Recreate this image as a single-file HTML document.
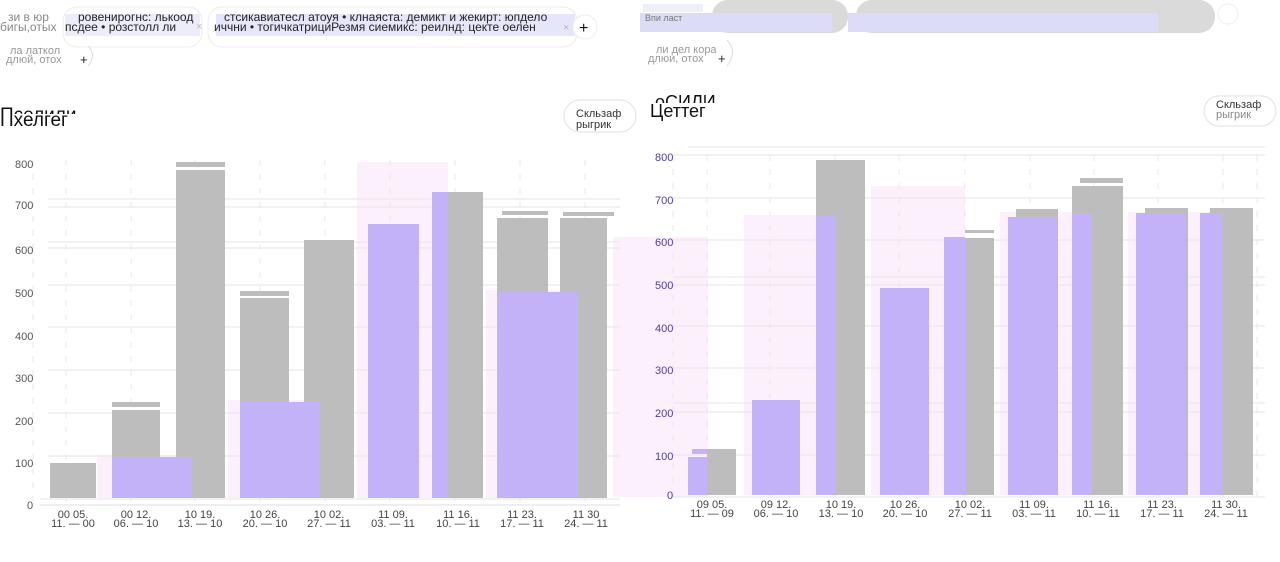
<!DOCTYPE html>
<html><head><meta charset="utf-8"><style>
html,body{margin:0;padding:0;background:#fff;width:1280px;height:562px;overflow:hidden}
svg{display:block}
text{font-family:"Liberation Sans","DejaVu Sans",sans-serif}
</style></head><body>
<svg width="1280" height="562" viewBox="0 0 1280 562" xmlns="http://www.w3.org/2000/svg">
<defs>
<clipPath id="ct1"><rect x="0" y="100" width="120" height="14"/></clipPath>
<clipPath id="ct2"><rect x="0" y="114" width="120" height="14"/></clipPath>
<clipPath id="ct3"><rect x="640" y="88" width="120" height="15"/></clipPath>
<clipPath id="ct4"><rect x="640" y="103" width="120" height="20"/></clipPath>
</defs>

<!-- TOP LEFT toolbar -->
<rect x="63" y="7" width="139" height="40" rx="14" fill="#fff" stroke="#ececec"/>
<rect x="208" y="7" width="369" height="40" rx="14" fill="#fff" stroke="#ececec"/>
<rect x="65" y="14" width="135" height="22" fill="#ececfb"/>
<rect x="216" y="14" width="359" height="22" fill="#e6e6fa"/>
<text x="8" y="21" font-size="12" fill="#888">зи в юр</text>
<text x="0" y="31" font-size="12" fill="#888">бигы,отых</text>
<text x="78" y="21" font-size="12" fill="#222">ровенирогнс: лькоод</text>
<text x="65" y="31" font-size="12" fill="#222">псдее • розстолл ли</text>
<text x="196" y="30" font-size="11" fill="#bbb">×</text>
<text x="224" y="21" font-size="12" fill="#222">стсикавиатесл атоуя • клнаяста: демикт и жекирт: юпдело</text>
<text x="214" y="31" font-size="12" fill="#222">иччни • тогичкатрициРезмя сиемикс: реилнд: цекте оелен</text>
<text x="563" y="31" font-size="11" fill="#bbb">×</text>
<circle cx="585" cy="27" r="12" fill="#fff" stroke="#eee"/>
<text x="579" y="33" font-size="16" fill="#111">+</text>
<text x="10" y="54" font-size="11" fill="#999">ла латкол</text>
<text x="6" y="63" font-size="11" fill="#999">длюй, отох</text>
<text x="80" y="64" font-size="13" fill="#222">+</text>
<path d="M88 46 Q97 55 88 66" stroke="#ddd" fill="none"/>

<!-- TOP RIGHT toolbar -->
<rect x="643" y="4" width="60" height="8" fill="#efeffb"/>
<rect x="712" y="0" width="136" height="33" rx="16" fill="#dadada"/>
<rect x="856" y="0" width="359" height="33" rx="16" fill="#dadada"/>
<rect x="640" y="13" width="192" height="19" fill="#dcdcf7"/>
<rect x="848" y="13" width="310" height="19" fill="#dcdcf7"/>
<text x="645" y="21" font-size="9" fill="#777">Впи ласт</text>
<circle cx="1228" cy="14" r="10" fill="#fff" stroke="#eee"/>
<text x="656" y="53" font-size="11" fill="#999">ли дел кора</text>
<text x="648" y="62" font-size="11" fill="#999">длюи, отох</text>
<text x="718" y="63" font-size="13" fill="#222">+</text>
<path d="M727 40 Q738 52 727 66" stroke="#ddd" fill="none"/>

<!-- Titles -->
<text x="0" y="121" font-size="19" fill="#111" clip-path="url(#ct1)">Пселили</text>
<text x="0" y="126" font-size="19" fill="#111" clip-path="url(#ct2)">Пхелгег</text>
<text x="655" y="108" font-size="18" fill="#111" clip-path="url(#ct3)">оСИЛИ</text>
<text x="650" y="117" font-size="18" fill="#111" clip-path="url(#ct4)">Цеттег</text>
<rect x="564" y="100" width="72" height="32" rx="16" fill="#fff" stroke="#e2e2e2"/>
<text x="576" y="117" font-size="11" fill="#333">Скльзаф</text>
<text x="576" y="128" font-size="11" fill="#333">рыгрик</text>
<rect x="1204" y="96" width="72" height="30" rx="15" fill="#fff" stroke="#e2e2e2"/>
<text x="1216" y="108" font-size="11" fill="#333">Скльзаф</text>
<text x="1216" y="118" font-size="11" fill="#888">рыгрик</text>

<!-- pink backgrounds -->
<g fill="#fdf0fd">
<rect x="97" y="455" width="95" height="43"/>
<rect x="228" y="400" width="92" height="98"/>
<rect x="357" y="162" width="91" height="336"/>
<rect x="486" y="290" width="94" height="208"/>
<rect x="613" y="237" width="95" height="260"/>
<rect x="744" y="215" width="92" height="280"/>
<rect x="871" y="186" width="94" height="309"/>
<rect x="1000" y="212" width="92" height="283"/>
<rect x="1128" y="212" width="92" height="283"/>
</g>

<!-- left grid -->
<g stroke="#e6e6e6" stroke-width="1">
<line x1="48" y1="199" x2="620" y2="199"/><line x1="48" y1="207" x2="620" y2="207"/>
<line x1="48" y1="242" x2="620" y2="242"/><line x1="48" y1="248" x2="620" y2="248"/>
<line x1="48" y1="285" x2="620" y2="285"/>
<line x1="48" y1="327" x2="620" y2="327"/>
<line x1="48" y1="370" x2="620" y2="370"/>
<line x1="48" y1="413" x2="620" y2="413"/>
<line x1="48" y1="456" x2="620" y2="456"/>
<line x1="40" y1="499" x2="620" y2="499"/><line x1="40" y1="505" x2="620" y2="505" stroke="#ddd"/>
</g>
<g stroke="#e8e8e8" stroke-dasharray="6 8">
<line x1="33" y1="160" x2="33" y2="505"/><line x1="66" y1="160" x2="66" y2="505"/>
<line x1="131" y1="160" x2="131" y2="505"/><line x1="195" y1="160" x2="195" y2="505"/>
<line x1="260" y1="160" x2="260" y2="505"/><line x1="325" y1="160" x2="325" y2="505"/>
<line x1="390" y1="160" x2="390" y2="505"/><line x1="455" y1="160" x2="455" y2="505"/>
<line x1="520" y1="160" x2="520" y2="505"/><line x1="585" y1="160" x2="585" y2="505"/>
</g>
<g font-size="11" fill="#555">
<text x="15" y="168">800</text>
<text x="15" y="209">700</text>
<text x="15" y="254">600</text>
<text x="15" y="297">500</text>
<text x="15" y="340">400</text>
<text x="15" y="382">300</text>
<text x="15" y="425">200</text>
<text x="15" y="467">100</text>
<text x="27" y="509">0</text>
</g>

<!-- left gray bars -->
<g fill="#bdbdbd">
<rect x="50" y="463" width="46" height="35"/>
<rect x="112" y="410" width="48" height="88"/><rect x="112" y="402" width="48" height="5"/>
<rect x="176" y="170" width="49" height="328"/><rect x="176" y="162" width="49" height="5"/>
<rect x="240" y="298" width="49" height="200"/><rect x="240" y="291" width="49" height="5"/>
<rect x="304" y="240" width="50" height="258"/>
<rect x="448" y="192" width="35" height="306"/>
<rect x="497" y="218" width="51" height="280"/><rect x="502" y="211" width="46" height="4"/>
<rect x="560" y="218" width="47" height="280"/><rect x="563" y="212" width="51" height="4"/>
</g>
<g fill="#c3b2f7">
<rect x="112" y="457" width="80" height="41"/>
<rect x="240" y="402" width="80" height="96"/>
<rect x="368" y="224" width="51" height="274"/>
<rect x="432" y="192" width="16" height="306"/>
<rect x="497" y="292" width="81" height="206"/>
</g>
<rect x="578" y="292" width="29" height="206" fill="#bdbdbd"/>

<g font-size="11" fill="#444" text-anchor="middle">
<text x="73" y="518">00 05.</text><text x="73" y="527">11. — 00</text>
<text x="136" y="518">00 12.</text><text x="136" y="527">06. — 10</text>
<text x="200" y="518">10 19.</text><text x="200" y="527">13. — 10</text>
<text x="265" y="518">10 26.</text><text x="265" y="527">20. — 10</text>
<text x="329" y="518">10 02.</text><text x="329" y="527">27. — 11</text>
<text x="393" y="518">11 09.</text><text x="393" y="527">03. — 11</text>
<text x="458" y="518">11 16.</text><text x="458" y="527">10. — 11</text>
<text x="522" y="518">11 23.</text><text x="522" y="527">17. — 11</text>
<text x="586" y="518">11 30</text><text x="586" y="527">24. — 11</text>
</g>

<!-- RIGHT CHART grid -->
<g stroke="#e6e6e6" stroke-width="1">
<line x1="688" y1="147" x2="1265" y2="147"/>
<line x1="673" y1="155" x2="1265" y2="155"/>
<line x1="673" y1="198" x2="1265" y2="198"/>
<line x1="673" y1="240" x2="1265" y2="240"/>
<line x1="673" y1="277" x2="1265" y2="277"/><line x1="673" y1="285" x2="1265" y2="285"/>
<line x1="673" y1="326" x2="1265" y2="326"/>
<line x1="673" y1="368" x2="1265" y2="368"/>
<line x1="673" y1="403" x2="1265" y2="403"/><line x1="673" y1="412" x2="1265" y2="412"/>
<line x1="673" y1="455" x2="1265" y2="455"/>
<line x1="673" y1="497" x2="1265" y2="497"/>
</g>
<g stroke="#e8e8e8" stroke-dasharray="6 8">
<line x1="673" y1="155" x2="673" y2="497"/><line x1="707" y1="155" x2="707" y2="497"/>
<line x1="770" y1="155" x2="770" y2="497"/><line x1="835" y1="155" x2="835" y2="497"/>
<line x1="899" y1="155" x2="899" y2="497"/><line x1="965" y1="155" x2="965" y2="497"/>
<line x1="1030" y1="155" x2="1030" y2="497"/><line x1="1094" y1="155" x2="1094" y2="497"/>
<line x1="1158" y1="155" x2="1158" y2="497"/><line x1="1223" y1="155" x2="1223" y2="497"/>
<line x1="1257" y1="155" x2="1257" y2="497"/>
</g>
<g font-size="11" fill="#4a3fa0">
<text x="655" y="161">800</text>
<text x="655" y="204">700</text>
<text x="655" y="246">600</text>
<text x="655" y="289">500</text>
<text x="655" y="332">400</text>
<text x="655" y="374">300</text>
<text x="655" y="417">200</text>
<text x="655" y="460">100</text>
<text x="667" y="499">0</text>
</g>

<g fill="#bdbdbd">
<rect x="707" y="449" width="29" height="46"/>
<rect x="816" y="160" width="49" height="335"/>
<rect x="965" y="238" width="29" height="257"/><rect x="965" y="230" width="29" height="3"/>
<rect x="1016" y="209" width="42" height="286"/>
<rect x="1072" y="186" width="51" height="309"/><rect x="1080" y="178" width="43" height="5"/>
<rect x="1145" y="208" width="43" height="287"/>
<rect x="1210" y="208" width="43" height="287"/>
</g>
<g fill="#c3b2f7">
<rect x="688" y="457" width="19" height="38"/>
<rect x="692" y="449" width="15" height="5"/>
<rect x="752" y="400" width="48" height="95"/>
<rect x="816" y="216" width="20" height="279"/>
<rect x="880" y="288" width="49" height="207"/>
<rect x="944" y="237" width="21" height="258"/>
<rect x="1008" y="217" width="49" height="278"/>
<rect x="1072" y="213" width="20" height="282"/>
<rect x="1136" y="213" width="49" height="282"/>
<rect x="1200" y="213" width="22" height="282"/>
</g>

<g font-size="11" fill="#444" text-anchor="middle">
<text x="712" y="508">09 05.</text><text x="712" y="517">11. — 09</text>
<text x="776" y="508">09 12.</text><text x="776" y="517">06. — 10</text>
<text x="841" y="508">10 19.</text><text x="841" y="517">13. — 10</text>
<text x="905" y="508">10 26.</text><text x="905" y="517">20. — 10</text>
<text x="970" y="508">10 02.</text><text x="970" y="517">27. — 11</text>
<text x="1034" y="508">11 09.</text><text x="1034" y="517">03. — 11</text>
<text x="1098" y="508">11 16.</text><text x="1098" y="517">10. — 11</text>
<text x="1162" y="508">11 23.</text><text x="1162" y="517">17. — 11</text>
<text x="1226" y="508">11 30.</text><text x="1226" y="517">24. — 11</text>
</g>
</svg>
</body></html>
